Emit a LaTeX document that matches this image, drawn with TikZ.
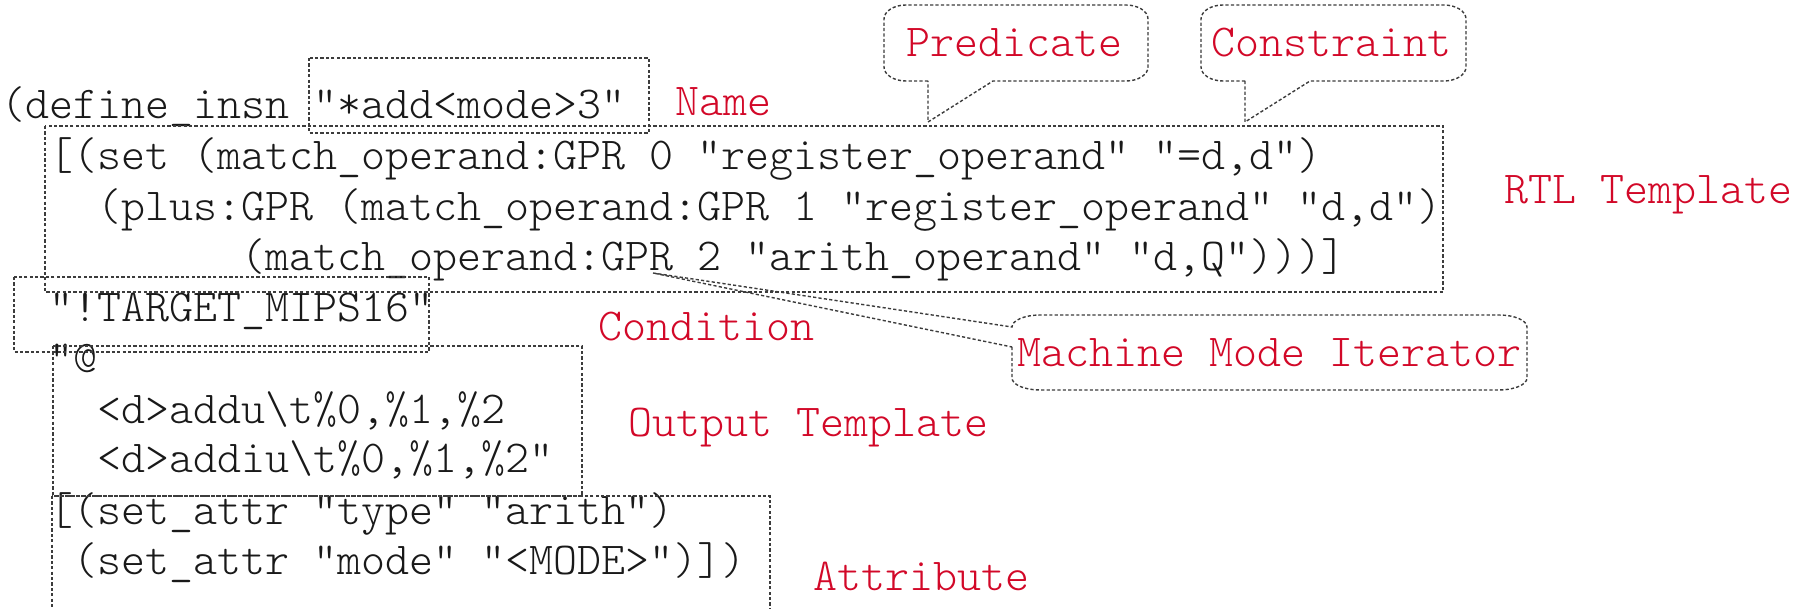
\documentclass[tikz,border=0pt]{standalone}
\usepackage{fontspec}
\usetikzlibrary{calc}
\newfontfamily\codeface{Latin Modern Mono Light}
\definecolor{tagred}{RGB}{210,8,40}
\definecolor{codeink}{RGB}{25,25,25}
\definecolor{frameink}{RGB}{60,60,60}
% 0.525em advance = 24px at 0.5pt per unit
\newcommand\codefnt{\codeface\fontsize{22.857}{27}\selectfont}
\tikzset{
  code/.style={anchor=base west, inner sep=0pt, font=\codefnt, text=codeink},
  tag/.style={anchor=base west, inner sep=0pt, font=\codefnt, text=tagred},
  frame/.style={draw=frameink, line width=0.7pt, dash pattern=on 1.6pt off 1.1pt},
}
\begin{document}
\begin{tikzpicture}[x=0.5pt,y=-0.5pt]
\useasboundingbox (0,0) rectangle (1811,609);

% source lines of the define_insn pattern (column n starts at 1+24n)
\node[code] (l1)  at (1,119)   {(define\_insn "*add<mode>3"};
\node[code] (l2)  at (49,170)  {[(set (match\_operand:GPR 0 "register\_operand" "=d,d")};
\node[code] (l3)  at (97,221)  {(plus:GPR (match\_operand:GPR 1 "register\_operand" "d,d")};
\node[code] (l4)  at (241,271) {(match\_operand:GPR 2 "arith\_operand" "d,Q")))]};
\node[code] (l5)  at (49,322)  {"!TARGET\_MIPS16"};
\node[code] (l6)  at (49,372)  {"@};
\node[code] (l7)  at (97,423)  {<d>addu\textbackslash t\%0,\%1,\%2};
\node[code] (l8)  at (97,473)  {<d>addiu\textbackslash t\%0,\%1,\%2"};
\node[code] (l9)  at (49,524)  {[(set\_attr "type" "arith")};
\node[code] (l10) at (73,574)  {(set\_attr "mode" "<MODE>")])};

% dashed frames around the parts
\draw[frame] (309,58) rectangle (649,133);
\draw[frame] (45,126) rectangle (1443,292);
\draw[frame] (14,277) rectangle (429,352);
\draw[frame] (53,346) rectangle (582,496);
\begin{scope}
  \clip (0,0) rectangle (1811,609);
  \draw[frame] (52,496) rectangle (770,640);
\end{scope}

% part names
\node[tag] (name) at (675.5,116) {Name};
\node[tag] (rtl)  at (1504,204)  {RTL Template};
\node[tag] (cond) at (598.5,341) {Condition};
\node[tag] (outp) at (628,437)   {Output Template};
\node[tag] (attr) at (813,590)   {Attribute};

% callouts
\coordinate (predtip) at (928,122);
\coordinate (constip) at (1245,122);
\coordinate (modetip) at (653,273);

\node[tag] (pred) at (906,57) {Predicate};
\draw[frame] (928,81) -- (906,81) .. controls (893.9,81) and (884,74.7) .. (884,67)
  -- (884,19) .. controls (884,11.3) and (893.9,5) .. (906,5)
  -- (1126,5) .. controls (1138.1,5) and (1148,11.3) .. (1148,19)
  -- (1148,67) .. controls (1148,74.7) and (1138.1,81) .. (1126,81)
  -- (993,81) -- (predtip) -- cycle;

\node[tag] (cons) at (1211.5,57) {Constraint};
\draw[frame] (1245,81) -- (1223,81) .. controls (1210.9,81) and (1201,74.7) .. (1201,67)
  -- (1201,19) .. controls (1201,11.3) and (1210.9,5) .. (1223,5)
  -- (1444,5) .. controls (1456.1,5) and (1466,11.3) .. (1466,19)
  -- (1466,67) .. controls (1466,74.7) and (1456.1,81) .. (1444,81)
  -- (1310,81) -- (constip) -- cycle;

\node[tag] (iter) at (1017,367) {Machine Mode Iterator};
\draw[frame] (1012,347) -- (1012,378) .. controls (1012,384.6) and (1024.6,390) .. (1040,390)
  -- (1499,390) .. controls (1514.4,390) and (1527,384.6) .. (1527,378)
  -- (1527,327) .. controls (1527,320.4) and (1514.4,315) .. (1499,315)
  -- (1040,315) .. controls (1024.6,315) and (1012,320.4) .. (1012,327)
  -- (modetip) -- cycle;
\end{tikzpicture}
\end{document}
